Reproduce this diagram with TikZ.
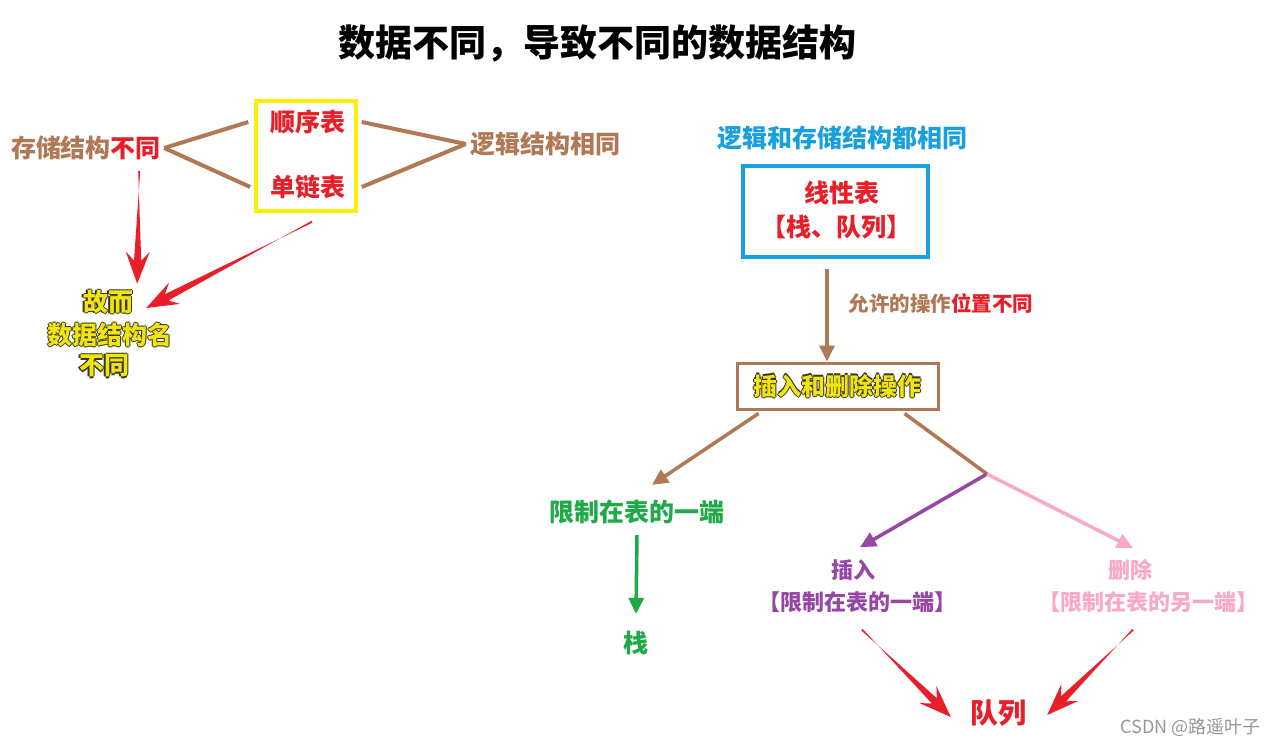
\documentclass[tikz,border=0pt]{standalone}
\usepackage{fontspec}
\setmainfont{Noto Sans CJK SC}
\usetikzlibrary{arrows.meta,calc}
\definecolor{brn}{RGB}{176,120,84}
\definecolor{rd}{RGB}{232,30,40}
\definecolor{ylbox}{RGB}{255,240,0}
\definecolor{ylc}{RGB}{240,228,20}
\definecolor{olc}{RGB}{55,55,20}
\definecolor{blu}{RGB}{24,160,220}
\definecolor{grn}{RGB}{30,170,70}
\definecolor{prp}{RGB}{150,70,165}
\definecolor{pnk}{RGB}{248,168,200}
\definecolor{wm}{RGB}{150,150,150}
\newcommand\ylw[1]{\leavevmode\rlap{\textcolor{olc}{\kern-1.2pt#1}}\rlap{\textcolor{olc}{\kern1.2pt#1}}\rlap{\textcolor{olc}{\raisebox{1.2pt}{#1}}}\rlap{\textcolor{olc}{\raisebox{-1.2pt}{#1}}}\textcolor{ylc}{#1}}
% tapered red arrow from coordinate #1 to coordinate #2
\newcommand\taper[2]{%
  \coordinate (tpA) at ($(#2)!23pt!(#1)$);
  \coordinate (tpW) at ($(#2)!32pt!(#1)$);
  \fill[rd] ($(#1)!1pt!90:(#2)$) -- ($(tpA)!3.6pt!-90:(#2)$) -- ($(tpW)!12pt!-90:(#2)$) -- (#2)
     -- ($(tpW)!12pt!90:(#2)$) -- ($(tpA)!3.6pt!90:(#2)$) -- ($(#1)!1pt!-90:(#2)$) -- cycle;}
\begin{document}
\begin{tikzpicture}[x=1pt,y=-1pt,
  lbl/.style={inner sep=1pt, font=\bfseries\fontsize{25}{30}\selectfont},
  sml/.style={inner sep=1pt, font=\bfseries\fontsize{22}{26}\selectfont},
  brline/.style={draw=brn, line width=4pt},
  brarrow/.style={draw=brn, line width=3.5pt, -{Triangle[length=16pt,width=15pt]}},
  colarrow/.style={line width=3.5pt, -{Triangle[length=16pt,width=15pt]}}]
\useasboundingbox[fill=white] (0,0) rectangle (1275,747);

% title
\node[inner sep=1pt, font=\bfseries\fontsize{37}{40}\selectfont] (title) at (597,43) {数据不同，导致不同的数据结构};

% ---------- left part
\node[lbl, text=brn] (cun) at (86,148) {存储结构\textcolor{rd}{不同}};
\node[draw=ylbox, line width=3.5pt, minimum width=100pt, minimum height=110pt, inner sep=0pt] (ybox) at (306,156) {};
\node[lbl, text=rd] (sx) at (308,122) {顺序表};
\node[lbl, text=rd] (dl) at (308,187) {单链表};
\node[lbl, text=brn] (luoji) at (545,144) {逻辑结构相同};

\node[lbl] (g1) at (108,302) {\ylw{故而}};
\node[lbl] (g2) at (110,335) {\ylw{数据结构名}};
\node[lbl] (g3) at (104,366) {\ylw{不同}};

\coordinate (lj) at ([xshift=-3pt]luoji.west);
\draw[brline] ([xshift=2pt]cun.east) -- ([xshift=-6pt]ybox.west |- sx);
\draw[brline] ([xshift=2pt]cun.east) -- ([xshift=-4pt]ybox.west |- dl);
\draw[brline] ([xshift=4pt]ybox.east |- sx) -- (lj);
\draw[brline] ([xshift=4pt]ybox.east |- dl) -- (lj);

\coordinate (r1s) at ([xshift=-23pt,yshift=-10pt]cun.south east);
\coordinate (r1e) at ([xshift=3pt,yshift=4pt]g1.north east);
\taper{r1s}{r1e}
\coordinate (r2s) at ([xshift=6pt,yshift=-9pt]ybox.south);
\coordinate (r2e) at ([xshift=12pt,yshift=-6pt]g1.east);
\taper{r2s}{r2e}

% ---------- right part
\node[lbl, text=blu] (same) at (842,138) {逻辑和存储结构都相同};
\node[draw=blu, line width=3.5pt, minimum width=185pt, minimum height=91pt, inner sep=0pt] (bbox) at (835.5,211.5) {};
\node[lbl, text=rd] (xx) at (842,193) {线性表};
\node[lbl, text=rd] (zd) at (836,227) {【栈、队列】};

\node[draw=brn, line width=3pt, minimum width=201pt, minimum height=46pt, inner sep=0pt, font=\bfseries\fontsize{24}{28}\selectfont] (op) at (837.5,386) {\ylw{插入和删除操作}};
\draw[brarrow] ([xshift=-8.5pt,yshift=-10pt]bbox.south) -- ([xshift=-10.5pt]op.north);
\node[inner sep=1pt, font=\bfseries\fontsize{20.5}{24}\selectfont, text=brn] (yx) at (941,304) {允许的操作\textcolor{rd}{位置不同}};

\node[lbl, text=grn] (xz) at (637,512) {限制在表的一端};
\node[lbl, text=grn] (zhan) at (636,643) {栈};

\node[sml, text=prp] (cr) at (853,570) {插入};
\node[sml, text=prp] (cr2) at (857,602) {【限制在表的一端】};
\node[sml, text=pnk] (sc) at (1130,570) {删除};
\node[sml, text=pnk] (sc2) at (1148,602) {【限制在表的另一端】};

\node[inner sep=1pt, font=\bfseries\fontsize{28}{32}\selectfont, text=rd] (dlie) at (998,713) {队列};

\coordinate (jn) at (987,474);
\draw[brarrow] ([xshift=23pt,yshift=-3pt]op.south west) -- ([xshift=15pt,yshift=14pt]xz.north);
\draw[brline, line width=3.5pt] ([xshift=-35pt,yshift=-3pt]op.south east) -- (jn);
\draw[colarrow, draw=prp, fill=prp] (jn) -- ([xshift=7pt,yshift=11pt]cr.north);
\draw[colarrow, draw=pnk, fill=pnk] (jn) -- ([xshift=3pt,yshift=10pt]sc.north);
\draw[colarrow, draw=grn, fill=grn] ([yshift=-10pt]xz.south) -- ([yshift=16pt]zhan.north);

\coordinate (r3s) at ([xshift=5pt,yshift=-16pt]cr2.south);
\coordinate (r3e) at ([xshift=-18pt,yshift=-4pt]dlie.west);
\taper{r3s}{r3e}
\coordinate (r4s) at ([xshift=-15pt,yshift=-16pt]sc2.south);
\coordinate (r4e) at ([xshift=20pt,yshift=-2pt]dlie.east);
\taper{r4s}{r4e}

\node[inner sep=1pt, font=\fontsize{18}{20}\selectfont, text=wm, anchor=east] (wmk) at (1262,727) {CSDN @路遥叶子};
\end{tikzpicture}
\end{document}
